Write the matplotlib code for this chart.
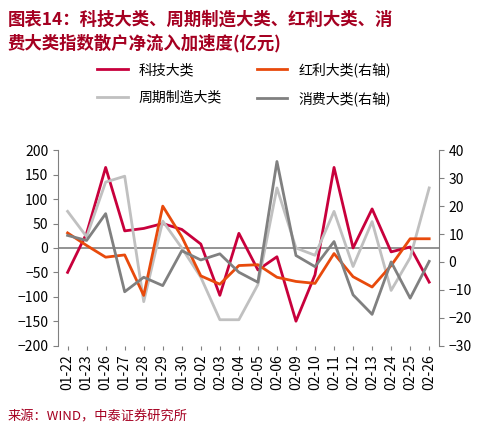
import matplotlib.pyplot as plt
import numpy as np

plt.rcParams['font.family'] = ['Noto Sans CJK SC', 'DejaVu Sans']

dates = ['01-22', '01-23', '01-26', '01-27', '01-28', '01-29', '01-30', '02-02', '02-03', '02-04',
         '02-05', '02-06', '02-09', '02-10', '02-11', '02-12', '02-13', '02-24', '02-25', '02-26']
tech = [-50, 30, 165, 35, 40, 50, 38, 8, -97, 30, -45, -18, -150, -55, 165, 0, 80, -8, 2, -70]
cycle = [75, 23, 135, 147, -110, 55, 0, -60, -147, -147, -75, 123, 0, -15, 75, -38, 54, -87, -20, 123]
dividend = [10.4, 5.9, 1.7, 2.5, -12, 20, 9, -5, -8, -1.3, -1, -5.5, -7, -7.7, 3, -5.3, -9, -1.3, 8.3, 8.3]
consumer = [9.5, 7.7, 17.3, -10.7, -5.5, -8.5, 4, 0.7, 2.9, -3.7, -7.3, 36, 2.3, -1.7, 7.3, -11.8, -18.8, 0, -13, 0.2]

fig = plt.figure(figsize=(4.88, 4.32), dpi=100)
ax = fig.add_axes([0.119, 0.2, 0.78, 0.452])
ax2 = ax.twinx()
x = np.arange(len(dates))

l1, = ax.plot(x, tech, color='#C8003C', lw=2, label='科技大类')
l2, = ax.plot(x, cycle, color='#C0C0C0', lw=2, label='周期制造大类')
l3, = ax2.plot(x, dividend, color='#E84A0C', lw=2, label='红利大类(右轴)')
l4, = ax2.plot(x, consumer, color='#808080', lw=2, label='消费大类(右轴)')
ax.axhline(0, color='#808080', lw=1.2, zorder=0)

ax.set_ylim(-200, 200)
ax.set_yticks(range(-200, 201, 50))
ax2.set_ylim(-30, 40)
ax2.set_yticks(range(-30, 41, 10))
ax.set_xlim(-0.5, len(dates) - 0.5)
ax.set_xticks(x)
ax.set_xticklabels(dates, rotation=90, fontsize=10)
for a in (ax, ax2):
    a.tick_params(labelsize=10, color='#808080')
    for s in a.spines.values():
        s.set_visible(False)
ax.spines['left'].set_visible(True)
ax2.spines['right'].set_visible(True)
ax.spines['left'].set_color('#808080')
ax2.spines['right'].set_color('#808080')
ax.tick_params(axis='x', length=3)

fig.legend(handles=[l1, l2, l3, l4], ncol=2, loc='upper center', bbox_to_anchor=(0.5, 0.885),
           frameon=False, fontsize=10, columnspacing=2.5, handlelength=2.2, labelspacing=1.0)

fig.text(0.015, 0.975, '图表14：科技大类、周期制造大类、红利大类、消\n费大类指数散户净流入加速度(亿元)',
         ha='left', va='top', fontsize=12.5, fontweight='bold', color='#A50021', style='italic',
         linespacing=1.35)
fig.text(0.015, 0.02, '来源：WIND，中泰证券研究所', ha='left', va='bottom', fontsize=9.5, color='#A50021')

fig.savefig('out.png', dpi=100)
